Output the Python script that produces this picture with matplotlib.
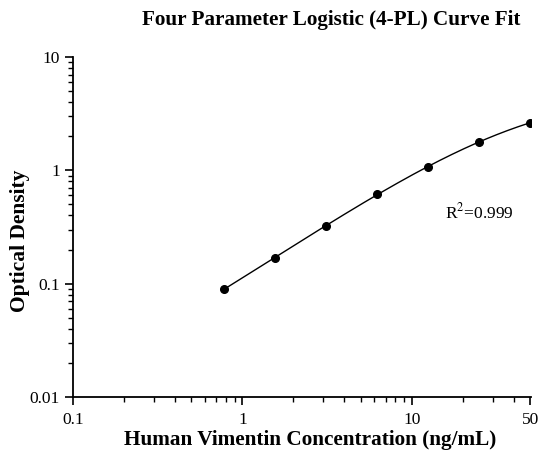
import numpy as np
import matplotlib
matplotlib.use('Agg')
import matplotlib.pyplot as plt
from matplotlib.ticker import LogLocator, FixedLocator, NullFormatter

# standard concentrations (ng/mL) and measured OD
conc = [0.78, 1.56, 3.125, 6.25, 12.5, 25, 50]
od = [0.089, 0.167, 0.323, 0.622, 1.08, 1.78, 2.63]

# 4-PL fit parameters (estimated): bottom, slope, EC50, top
fit_a = 0.005
fit_b = 1.0
fit_c = 45.8
fit_d = 5.04

x_ticks = [0.1, 1, 10, 50]
x_ticklabels = ['0.1', '1', '10', '50']
y_ticks = [0.01, 0.1, 1, 10]
y_ticklabels = ['0.01', '0.1', '1', '10']

def four_pl(x, a, b, c, d):
    return d + (a - d) / (1 + (x / c) ** b)

plt.rcParams['font.family'] = ['Liberation Serif', 'DejaVu Serif']
plt.rcParams['mathtext.fontset'] = 'stix'

fig = plt.figure(figsize=(5.43, 4.58), dpi=100)
ax = fig.add_axes([73 / 543, 61 / 458, (531 - 73) / 543, (397 - 57) / 458])

xs = np.logspace(np.log10(conc[0]), np.log10(conc[-1]), 200)
ax.plot(xs, four_pl(xs, fit_a, fit_b, fit_c, fit_d), color='black', lw=1.0)
ax.plot(conc, od, 'o', color='black', markersize=5.5)

ax.set_xscale('log')
ax.set_yscale('log')
ax.set_xlim(0.1, 50.5)
ax.set_ylim(0.01, 10)

ax.xaxis.set_major_locator(FixedLocator(x_ticks))
ax.set_xticklabels(x_ticklabels)
ax.xaxis.set_minor_locator(FixedLocator([0.2, 0.3, 0.4, 0.5, 0.6, 0.7, 0.8, 0.9,
                                         2, 3, 4, 5, 6, 7, 8, 9, 20, 30, 40]))
ax.xaxis.set_minor_formatter(NullFormatter())
ax.yaxis.set_major_locator(FixedLocator(y_ticks))
ax.set_yticklabels(y_ticklabels)
ax.yaxis.set_minor_locator(LogLocator(base=10, subs=np.arange(2, 10)))
ax.yaxis.set_minor_formatter(NullFormatter())

for s in ['top', 'right']:
    ax.spines[s].set_visible(False)
for s in ['left', 'bottom']:
    ax.spines[s].set_linewidth(1.3)
ax.tick_params(which='major', direction='out', length=6, width=1.2, labelsize=12.5)
ax.tick_params(which='minor', direction='out', length=3.5, width=1.0)
ax.tick_params(axis='x', pad=5)

ax.text((445 - 73) / 458, (397 - 212) / 340, r'R$^2$=0.999', transform=ax.transAxes,
        fontsize=12.5, va='center', ha='left')

fig.text(331 / 543, 1 - 20 / 458, 'Four Parameter Logistic (4-PL) Curve Fit',
         ha='center', va='center', fontsize=15.2, fontweight='bold')
fig.text(310 / 543, 1 - 440 / 458, 'Human Vimentin Concentration (ng/mL)',
         ha='center', va='center', fontsize=15.3, fontweight='bold')
fig.text(20 / 543, 1 - 241 / 458, 'Optical Density', rotation=90,
         ha='center', va='center', fontsize=15.5, fontweight='bold')

fig.savefig('out.png', dpi=100)
